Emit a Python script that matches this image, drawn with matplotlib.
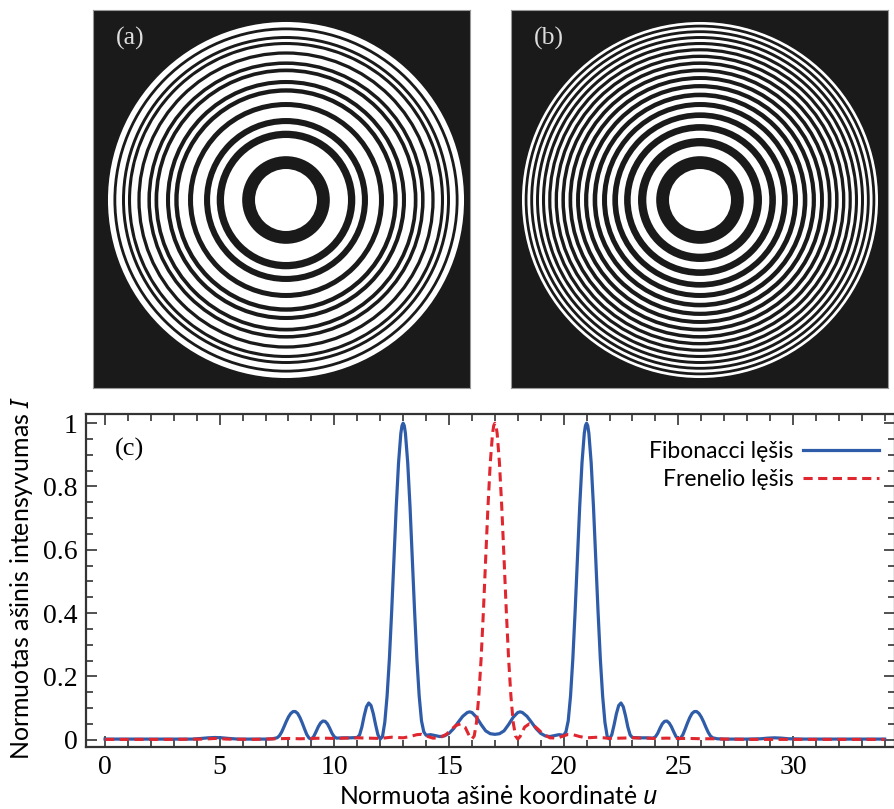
import matplotlib
matplotlib.use("Agg")
import matplotlib.pyplot as plt
from matplotlib.patches import Circle

# zone plate data: outer radius of each zone (normalised) and zone type A = clear, B = opaque
zone_r = [0.1715, 0.2425, 0.2970, 0.3430, 0.3835, 0.4201, 0.4537, 0.4851, 0.5145, 0.5423,
          0.5688, 0.5941, 0.6183, 0.6417, 0.6642, 0.6860, 0.7071, 0.7276, 0.7475, 0.7670,
          0.7859, 0.8044, 0.8225, 0.8402, 0.8575, 0.8745, 0.8911, 0.9075, 0.9236, 0.9393,
          0.9549, 0.9701, 0.9852, 1.0000]
fib_zones = "ABAABABAABAAB" "ABAABABA" "ABAABABAABAAB"
fzp_zones = "ABABABABABABABABABABABABABABABABAB"

# axial intensity, Fibonacci lens
u_fib = [0.0, 1.0, 2.0, 3.0, 3.8, 4.2, 4.5, 4.8, 5.1, 5.4, 5.8, 6.5, 7.0, 7.3, 7.5, 7.6, 7.7, 7.8,
         7.9, 8.0, 8.1, 8.2, 8.3, 8.4, 8.5, 8.6, 8.7, 8.8, 8.9, 9.0, 9.1, 9.2, 9.3, 9.4, 9.5, 9.6,
         9.7, 9.8, 9.9, 10.0, 10.1, 10.4, 10.7, 11.0, 11.1, 11.2, 11.3, 11.4, 11.5, 11.6, 11.7,
         11.8, 11.9, 12.0, 12.1, 12.2, 12.3, 12.4, 12.5, 12.6, 12.7, 12.8, 12.9, 12.95, 13.0, 13.05,
         13.1, 13.2, 13.3, 13.4, 13.5, 13.6, 13.7, 13.8, 13.9, 14.0, 14.2, 14.4, 14.6, 14.8, 15.0,
         15.2, 15.4, 15.6, 15.8, 15.9, 16.0, 16.2, 16.4, 16.6, 16.8, 17.0, 17.2, 17.4, 17.6, 17.8,
         18.0, 18.1, 18.2, 18.4, 18.6, 18.8, 19.0, 19.2, 19.4, 19.6, 19.8, 20.0, 20.1, 20.2, 20.3,
         20.4, 20.5, 20.6, 20.7, 20.8, 20.9, 20.95, 21.0, 21.05, 21.1, 21.2, 21.3, 21.4, 21.5, 21.6,
         21.7, 21.8, 21.9, 22.0, 22.1, 22.2, 22.3, 22.4, 22.5, 22.6, 22.7, 22.8, 22.9, 23.0, 23.3,
         23.6, 23.9, 24.0, 24.1, 24.2, 24.3, 24.4, 24.5, 24.6, 24.7, 24.8, 24.9, 25.0, 25.1, 25.2,
         25.3, 25.4, 25.5, 25.6, 25.7, 25.8, 25.9, 26.0, 26.1, 26.2, 26.3, 26.4, 26.5, 26.7, 27.0,
         28.0, 28.6, 28.9, 29.2, 29.5, 29.8, 30.5, 32.0, 34.0]
i_fib = [0.002, 0.002, 0.002, 0.002, 0.002, 0.004, 0.006, 0.007, 0.006, 0.004, 0.002, 0.002, 0.002,
         0.003, 0.006, 0.012, 0.024, 0.040, 0.057, 0.072, 0.083, 0.089, 0.089, 0.083, 0.070, 0.053,
         0.034, 0.016, 0.005, 0.002, 0.010, 0.025, 0.041, 0.053, 0.059, 0.058, 0.050, 0.036, 0.020,
         0.009, 0.005, 0.006, 0.006, 0.007, 0.015, 0.040, 0.075, 0.104, 0.116, 0.108, 0.082, 0.047,
         0.016, 0.002, 0.010, 0.055, 0.138, 0.255, 0.405, 0.573, 0.737, 0.875, 0.968, 0.992, 1.000,
         0.992, 0.968, 0.875, 0.737, 0.573, 0.405, 0.255, 0.138, 0.060, 0.025, 0.014, 0.016, 0.013,
         0.010, 0.012, 0.020, 0.035, 0.055, 0.074, 0.086, 0.088, 0.086, 0.071, 0.048, 0.028, 0.019,
         0.017, 0.019, 0.028, 0.048, 0.071, 0.086, 0.088, 0.086, 0.074, 0.055, 0.035, 0.020, 0.012,
         0.010, 0.013, 0.016, 0.014, 0.025, 0.060, 0.138, 0.255, 0.405, 0.573, 0.737, 0.875, 0.968,
         0.992, 1.000, 0.992, 0.968, 0.875, 0.737, 0.573, 0.405, 0.255, 0.138, 0.055, 0.010, 0.002,
         0.016, 0.047, 0.082, 0.108, 0.116, 0.104, 0.075, 0.040, 0.015, 0.007, 0.006, 0.006, 0.005,
         0.009, 0.020, 0.036, 0.050, 0.058, 0.059, 0.053, 0.041, 0.025, 0.010, 0.002, 0.005, 0.016,
         0.034, 0.053, 0.070, 0.083, 0.089, 0.089, 0.083, 0.072, 0.057, 0.040, 0.024, 0.012, 0.006,
         0.003, 0.002, 0.002, 0.003, 0.005, 0.006, 0.005, 0.003, 0.002, 0.002, 0.002]

# axial intensity, Fresnel lens
u_fzp = [0.0, 3.0, 4.3, 4.8, 5.3, 6.5, 7.0, 7.5, 8.0, 8.5, 9.0, 9.5, 10.0, 10.5, 11.0, 11.5, 12.0,
         12.5, 13.0, 13.3, 13.6, 13.8, 14.0, 14.3, 14.6, 14.9, 15.1, 15.3, 15.5, 15.7, 15.8, 15.9,
         16.0, 16.1, 16.2, 16.3, 16.4, 16.5, 16.6, 16.7, 16.8, 16.9, 16.95, 17.0, 17.05, 17.1, 17.2,
         17.3, 17.4, 17.5, 17.6, 17.7, 17.8, 17.9, 18.0, 18.1, 18.2, 18.3, 18.5, 18.7, 18.9, 19.1,
         19.4, 19.7, 20.0, 20.2, 20.4, 20.7, 21.0, 21.5, 22.0, 22.5, 23.0, 23.5, 24.0, 24.5, 25.0,
         25.5, 26.0, 26.5, 27.0, 28.0, 29.0, 30.0, 32.0, 34.0]
i_fzp = [0.001, 0.001, 0.002, 0.004, 0.002, 0.001, 0.002, 0.003, 0.004, 0.003, 0.004, 0.005, 0.004,
         0.005, 0.006, 0.005, 0.004, 0.008, 0.006, 0.010, 0.016, 0.017, 0.012, 0.005, 0.006, 0.018,
         0.032, 0.045, 0.050, 0.040, 0.025, 0.010, 0.002, 0.012, 0.055, 0.138, 0.255, 0.405, 0.573,
         0.737, 0.875, 0.968, 0.992, 1.000, 0.992, 0.968, 0.875, 0.737, 0.573, 0.405, 0.255, 0.138,
         0.055, 0.012, 0.002, 0.010, 0.025, 0.040, 0.050, 0.045, 0.032, 0.018, 0.006, 0.005, 0.012,
         0.017, 0.016, 0.010, 0.006, 0.008, 0.004, 0.005, 0.006, 0.005, 0.004, 0.005, 0.004, 0.004,
         0.003, 0.003, 0.002, 0.001, 0.001, 0.001, 0.001, 0.001]

W, H = 894, 809
fig = plt.figure(figsize=(W / 100, H / 100), dpi=100)
plt.rcParams["mathtext.fontset"] = "custom"
plt.rcParams["mathtext.it"] = "Noto Sans:italic"
plt.rcParams["mathtext.rm"] = "Noto Sans"


def px_axes(x0, y0, x1, y1):
    return fig.add_axes([x0 / W, 1 - y1 / H, (x1 - x0) / W, (y1 - y0) / H])


# (a) and (b): zone plates drawn as stacked discs
R = 180.7
for zones, label, x0, x1, cx in [(fib_zones, "(a)", 93, 470, 286),
                                 (fzp_zones, "(b)", 511, 888, 700)]:
    ax = px_axes(x0, 10, x1, 388)
    ax.set_facecolor("#1a1a1a")
    ax.set_xlim(-(cx - x0) / R, (x1 - cx) / R)
    ax.set_ylim(-(388 - 200) / R, (200 - 10) / R)
    for r, z in reversed(list(zip(zone_r, zones))):
        ax.add_patch(Circle((0, 0), r, facecolor="white" if z == "A" else "#1a1a1a",
                            edgecolor="none", lw=0))
    ax.set_xticks([])
    ax.set_yticks([])
    for s in ax.spines.values():
        s.set_color("#999999")
        s.set_linewidth(0.8)
    ax.text(0.06, 0.925, label, transform=ax.transAxes, color="#dddddd",
            family="Liberation Serif", fontsize=18.5, va="center", ha="left")

# (c): axial intensity
ax = px_axes(86, 414, 895, 747)
ax.plot(u_fib, i_fib, color="#2f5ca8", lw=2.3, label="Fibonacci lęšis")
ax.plot(u_fzp, i_fzp, color="#e0262e", lw=2.2, ls=(0, (3, 1.8)), label="Frenelio lęšis")
ax.set_xlim(-0.83, 34.45)
ax.set_ylim(-0.023, 1.029)
ax.set_xticks([0, 5, 10, 15, 20, 25, 30])
ax.set_xticks(range(0, 35), minor=True)
ax.set_yticks([0, 0.2, 0.4, 0.6, 0.8, 1.0])
ax.set_yticklabels(["0", "0.2", "0.4", "0.6", "0.8", "1"])
ax.set_yticks([i * 0.05 for i in range(21)], minor=True)
ax.tick_params(which="both", direction="in", top=True, right=True, color="#333333", width=1.2)
ax.tick_params(which="major", length=8, labelsize=20, pad=6)
ax.tick_params(which="minor", length=5)
for lab in ax.get_xticklabels() + ax.get_yticklabels():
    lab.set_family("Liberation Serif")
for s in ax.spines.values():
    s.set_color("#333333")
    s.set_linewidth(1.6)

fig.text(115 / W, 1 - 449 / H, "(c)", family="Liberation Serif", fontsize=19,
         va="center", ha="left")

leg = ax.legend(loc="upper right", bbox_to_anchor=(890 / W, 1 - 430 / H),
                bbox_transform=fig.transFigure, frameon=False, markerfirst=False,
                prop={"family": ["Lato", "Noto Sans"], "size": 16.5}, handlelength=3.3,
                handletextpad=0.4, labelspacing=0.3, borderpad=0)

fig.text(499 / W, 1 - 796 / H, "Normuota ašinė koordinatė $u$", family=["Lato", "Noto Sans"],
         fontsize=17.8, va="center", ha="center")
fig.text(22 / W, 1 - 578 / H, "Normuotas ašinis intensyvumas $I$", family=["Lato", "Noto Sans"],
         fontsize=18, va="center", ha="center", rotation=90)

fig.savefig("out.png", dpi=100)
